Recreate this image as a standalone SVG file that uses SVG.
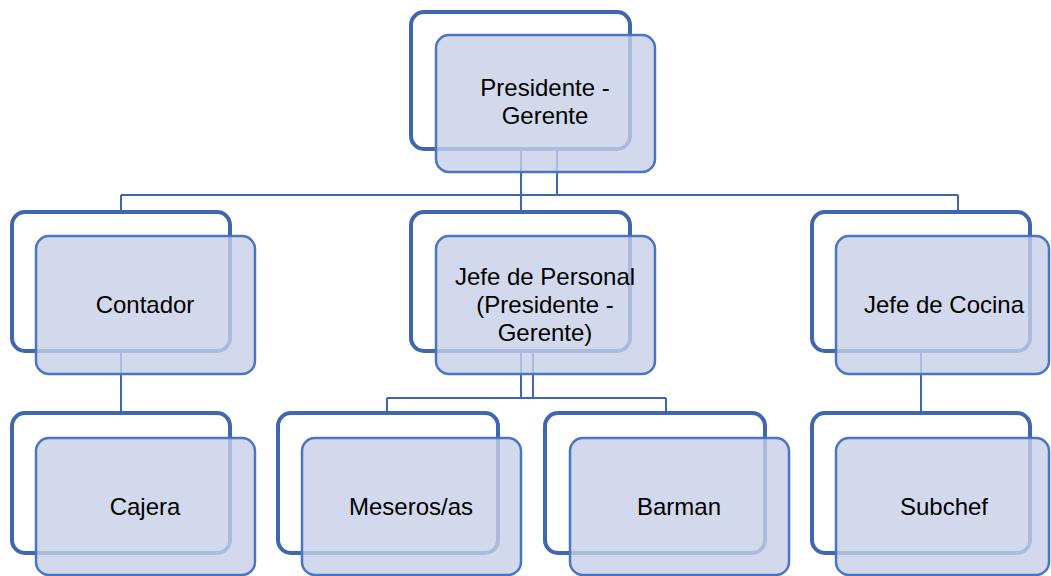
<svg xmlns="http://www.w3.org/2000/svg" width="1051" height="576" viewBox="0 0 1051 576">
<style>
.back{fill:#ffffff;stroke:#3f67b0;stroke-width:4}
.front{fill:#c8d0e7;fill-opacity:0.8;stroke:#4a74c4;stroke-width:2.5}
.conn{fill:none;stroke:#3f67b0;stroke-width:2}
text{font-family:"Liberation Sans",Arial,sans-serif;font-size:24px;fill:#000;text-anchor:middle}
</style>
<rect width="1051" height="576" fill="#ffffff"/>
<g id="connectors">
<path class="conn" d="M521,149 V212 M557,149 V195 M121,195 H958 M121,195 V212 M958,195 V212"/>
<path class="conn" d="M121,351 V413"/>
<path class="conn" d="M521,351 V398 M533,351 V398 M387,398 H666 M387,398 V413 M666,398 V413"/>
<path class="conn" d="M921,351 V413"/>
</g>
<g id="node-presidente">
<rect class="back" x="411" y="12" width="219" height="137" rx="13"/>
<rect class="front" x="436" y="35" width="219" height="137" rx="13"/>
<text x="545" y="96">Presidente -</text>
<text x="545" y="124">Gerente</text>
</g>
<g id="node-contador">
<rect class="back" x="12" y="212" width="218" height="139" rx="13"/>
<rect class="front" x="36" y="236" width="219" height="138" rx="13"/>
<text x="145" y="313">Contador</text>
</g>
<g id="node-jefe-personal">
<rect class="back" x="411" y="212" width="219" height="139" rx="13"/>
<rect class="front" x="436" y="236" width="219" height="138" rx="13"/>
<text x="545" y="285">Jefe de Personal</text>
<text x="545" y="313">(Presidente -</text>
<text x="545" y="341">Gerente)</text>
</g>
<g id="node-jefe-cocina">
<rect class="back" x="812" y="212" width="218" height="139" rx="13"/>
<rect class="front" x="836" y="236" width="213" height="138" rx="13"/>
<text x="944" y="313">Jefe de Cocina</text>
</g>
<g id="node-cajera">
<rect class="back" x="12" y="413" width="218" height="140" rx="13"/>
<rect class="front" x="36" y="438" width="219" height="137" rx="13"/>
<text x="145" y="515">Cajera</text>
</g>
<g id="node-meseros">
<rect class="back" x="278" y="413" width="220" height="140" rx="13"/>
<rect class="front" x="302" y="438" width="219" height="137" rx="13"/>
<text x="411" y="515">Meseros/as</text>
</g>
<g id="node-barman">
<rect class="back" x="545" y="413" width="220" height="140" rx="13"/>
<rect class="front" x="570" y="438" width="219" height="137" rx="13"/>
<text x="679" y="515">Barman</text>
</g>
<g id="node-subchef">
<rect class="back" x="812" y="413" width="218" height="140" rx="13"/>
<rect class="front" x="836" y="438" width="213" height="137" rx="13"/>
<text x="944" y="515">Subchef</text>
</g>
</svg>
